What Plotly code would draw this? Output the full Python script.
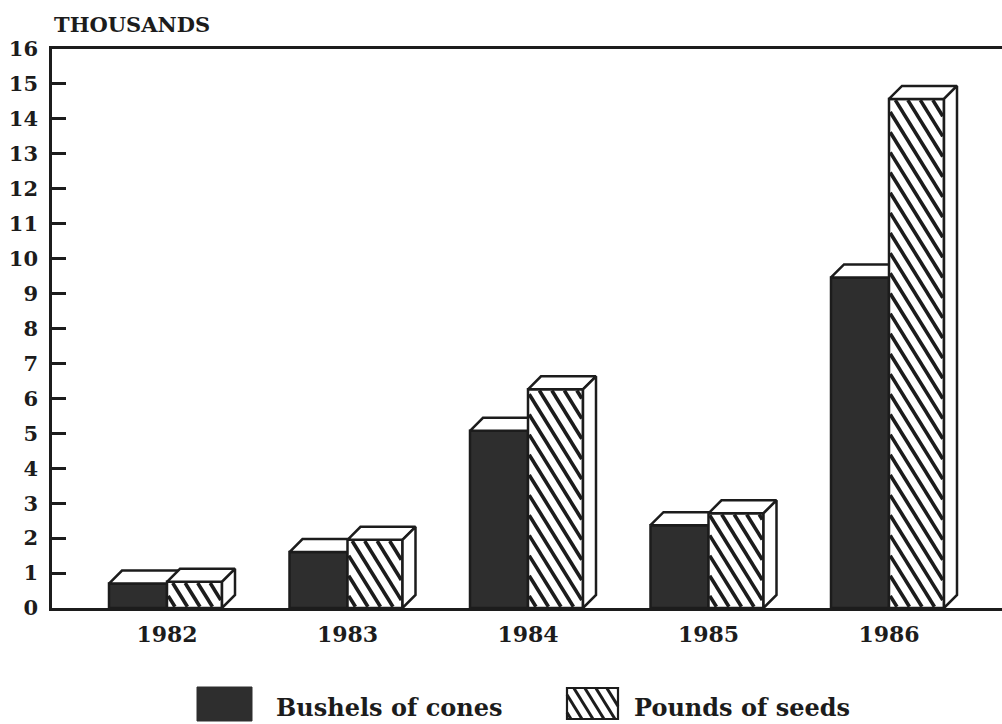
import numpy as np
import plotly.graph_objects as go

# ---- data (thousands) -------------------------------------------------------
years = ["1982", "1983", "1984", "1985", "1986"]
bushels_of_cones = [0.70, 1.60, 5.07, 2.37, 9.46]
pounds_of_seeds = [0.75, 1.95, 6.26, 2.71, 14.57]
y_tick_values = list(range(0, 17))

# ---- page / plot-area geometry (px) -----------------------------------------
W, H = 1002, 724
M_L, M_R, M_T, M_B = 52, 0, 49, 116
PW = W - M_L - M_R
PH = H - M_T - M_B

SLOT = 180.5                      # px between year slots
X0 = -115 / SLOT                  # first slot sits 115 px right of the y axis
X_RANGE = [X0, X0 + PW / SLOT]
Y_RANGE = [0, 16]
PX_X = PW / (X_RANGE[1] - X_RANGE[0])
PX_Y = PH / (Y_RANGE[1] - Y_RANGE[0])

W_CONES = 58 / PX_X               # bar widths in x units
W_SEEDS = 55 / PX_X
DX = 13 / PX_X                    # 3-D extrusion depth
DY = 13 / PX_Y

INK = "#1c1c1c"
DARK = "#2e2e2e"
FONT = "DejaVu Serif"

xs = list(range(len(years)))


def top_faces(lefts, rights, values):
    px, py = [], []
    for a, b, v in zip(lefts, rights, values):
        px += [a, b, b + DX, a + DX, a, None]
        py += [v, v, v + DY, v + DY, v, None]
    return px, py


def side_faces(rights, values):
    px, py = [], []
    for b, v in zip(rights, values):
        px += [b, b, b + DX, b + DX, b, None]
        py += [0, v, v + DY, DY, 0, None]
    return px, py


def hatch(lefts, values, width_px, step=12.5, k=0.62, inset=1.2):
    """Diagonal '\\' stripes clipped to each front face, built in px then mapped to data units."""
    px, py = [], []
    for a, v in zip(lefts, values):
        h = v * PX_Y - inset
        x0, x1 = inset, width_px - inset
        c = x0 + step * 0.6
        while c < x1 + h * k:
            ylo = max(inset, (c - x1) / k)
            yhi = min(h, (c - x0) / k)
            if yhi > ylo:
                px += [a + (c - ylo * k) / PX_X, a + (c - yhi * k) / PX_X, None]
                py += [ylo / PX_Y, yhi / PX_Y, None]
            c += step
    return px, py


fig = go.Figure()

# ---- bushels of cones (base subplot) ----------------------------------------
cone_l = [x - W_CONES for x in xs]
cone_r = list(xs)
fig.add_trace(go.Bar(
    x=xs, y=bushels_of_cones, width=W_CONES, offset=-W_CONES,
    marker=dict(color=DARK, line=dict(color=INK, width=2.5)),
    name="Bushels of cones", showlegend=False, hoverinfo="skip",
    xaxis="x", yaxis="y",
))
tx, ty = top_faces(cone_l, cone_r, bushels_of_cones)
fig.add_trace(go.Scatter(
    x=tx, y=ty, mode="lines", fill="toself", fillcolor="white",
    line=dict(color=INK, width=2.5), showlegend=False, hoverinfo="skip",
    xaxis="x", yaxis="y",
))

# ---- pounds of seeds (overlay subplot, drawn above the cones) ---------------
seed_l = list(xs)
seed_r = [x + W_SEEDS for x in xs]
fig.add_trace(go.Bar(
    x=xs, y=pounds_of_seeds, width=W_SEEDS, offset=0,
    marker=dict(color="white", line=dict(color=INK, width=2.5)),
    name="Pounds of seeds", showlegend=False, hoverinfo="skip",
    xaxis="x2", yaxis="y2",
))
hx, hy = hatch(seed_l, pounds_of_seeds, 55)
fig.add_trace(go.Scatter(
    x=hx, y=hy, mode="lines", line=dict(color=INK, width=3.6),
    showlegend=False, hoverinfo="skip", xaxis="x2", yaxis="y2",
))
tx, ty = top_faces(seed_l, seed_r, pounds_of_seeds)
fig.add_trace(go.Scatter(
    x=tx, y=ty, mode="lines", fill="toself", fillcolor="white",
    line=dict(color=INK, width=2.5), showlegend=False, hoverinfo="skip",
    xaxis="x2", yaxis="y2",
))
sx, sy = side_faces(seed_r, pounds_of_seeds)
fig.add_trace(go.Scatter(
    x=sx, y=sy, mode="lines", fill="toself", fillcolor="white",
    line=dict(color=INK, width=2.5), showlegend=False, hoverinfo="skip",
    xaxis="x2", yaxis="y2",
))


# ---- hand-drawn legend below the plot ---------------------------------------
def paper_x(px):
    return (px - M_L) / PW


def paper_y(py):
    return (H - M_B - py) / PH


shapes = [
    dict(type="rect", xref="paper", yref="paper",
         x0=paper_x(197), x1=paper_x(252), y0=paper_y(721), y1=paper_y(687),
         fillcolor=DARK, line=dict(color=DARK, width=1)),
    dict(type="rect", xref="paper", yref="paper",
         x0=paper_x(567), x1=paper_x(618), y0=paper_y(719), y1=paper_y(688),
         fillcolor="white", line=dict(color=INK, width=2.2)),
]
# stripes inside the hatched swatch
bx0, bx1, by0, by1 = 567, 618, 688, 719
k, step = 0.62, 11.0
c = bx0 + 4
hgt = by1 - by0
while c < bx1 + hgt * k:
    ylo = max(0, (c - bx1) / k)
    yhi = min(hgt, (c - bx0) / k)
    if yhi > ylo:
        shapes.append(dict(
            type="line", xref="paper", yref="paper",
            x0=paper_x(c - ylo * k), y0=paper_y(by1 - ylo),
            x1=paper_x(c - yhi * k), y1=paper_y(by1 - yhi),
            line=dict(color=INK, width=3),
        ))
    c += step

annotations = [
    dict(text="<b>THOUSANDS</b>", xref="paper", yref="paper", x=0, y=1,
         xanchor="left", yanchor="bottom", yshift=10, showarrow=False,
         font=dict(family=FONT, size=21, color=INK)),
    dict(text="<b>Bushels of cones</b>", xref="paper", yref="paper",
         x=paper_x(274), y=paper_y(707), xanchor="left", yanchor="middle",
         showarrow=False, font=dict(family=FONT, size=24, color=INK)),
    dict(text="<b>Pounds of seeds</b>", xref="paper", yref="paper",
         x=paper_x(632), y=paper_y(707), xanchor="left", yanchor="middle",
         showarrow=False, font=dict(family=FONT, size=24, color=INK)),
]

fig.update_layout(
    width=W, height=H,
    margin=dict(l=M_L, r=M_R, t=M_T, b=M_B, pad=0),
    paper_bgcolor="white", plot_bgcolor="white",
    showlegend=False, barmode="overlay",
    font=dict(family=FONT, color=INK),
    xaxis=dict(
        range=X_RANGE, tickvals=xs, ticktext=[f"<b>{y}</b>" for y in years],
        showline=True, linecolor=INK, linewidth=3, mirror=True,
        ticks="", showgrid=False, zeroline=False, fixedrange=True,
        tickfont=dict(family=FONT, size=22, color=INK), ticklabelstandoff=5,
    ),
    yaxis=dict(
        range=Y_RANGE, tickvals=y_tick_values,
        ticktext=[f"<b>{v}</b>" for v in y_tick_values],
        showline=True, linecolor=INK, linewidth=2.5,
        ticks="inside", ticklen=14, tickwidth=2.5, tickcolor=INK,
        showgrid=False, zeroline=False, fixedrange=True,
        tickfont=dict(family=FONT, size=21, color=INK), ticklabelstandoff=7,
    ),
    xaxis2=dict(range=X_RANGE, overlaying="x", visible=False, fixedrange=True),
    yaxis2=dict(range=Y_RANGE, overlaying="y", visible=False, fixedrange=True),
    shapes=shapes,
    annotations=annotations,
)

fig.write_html("out.html")
